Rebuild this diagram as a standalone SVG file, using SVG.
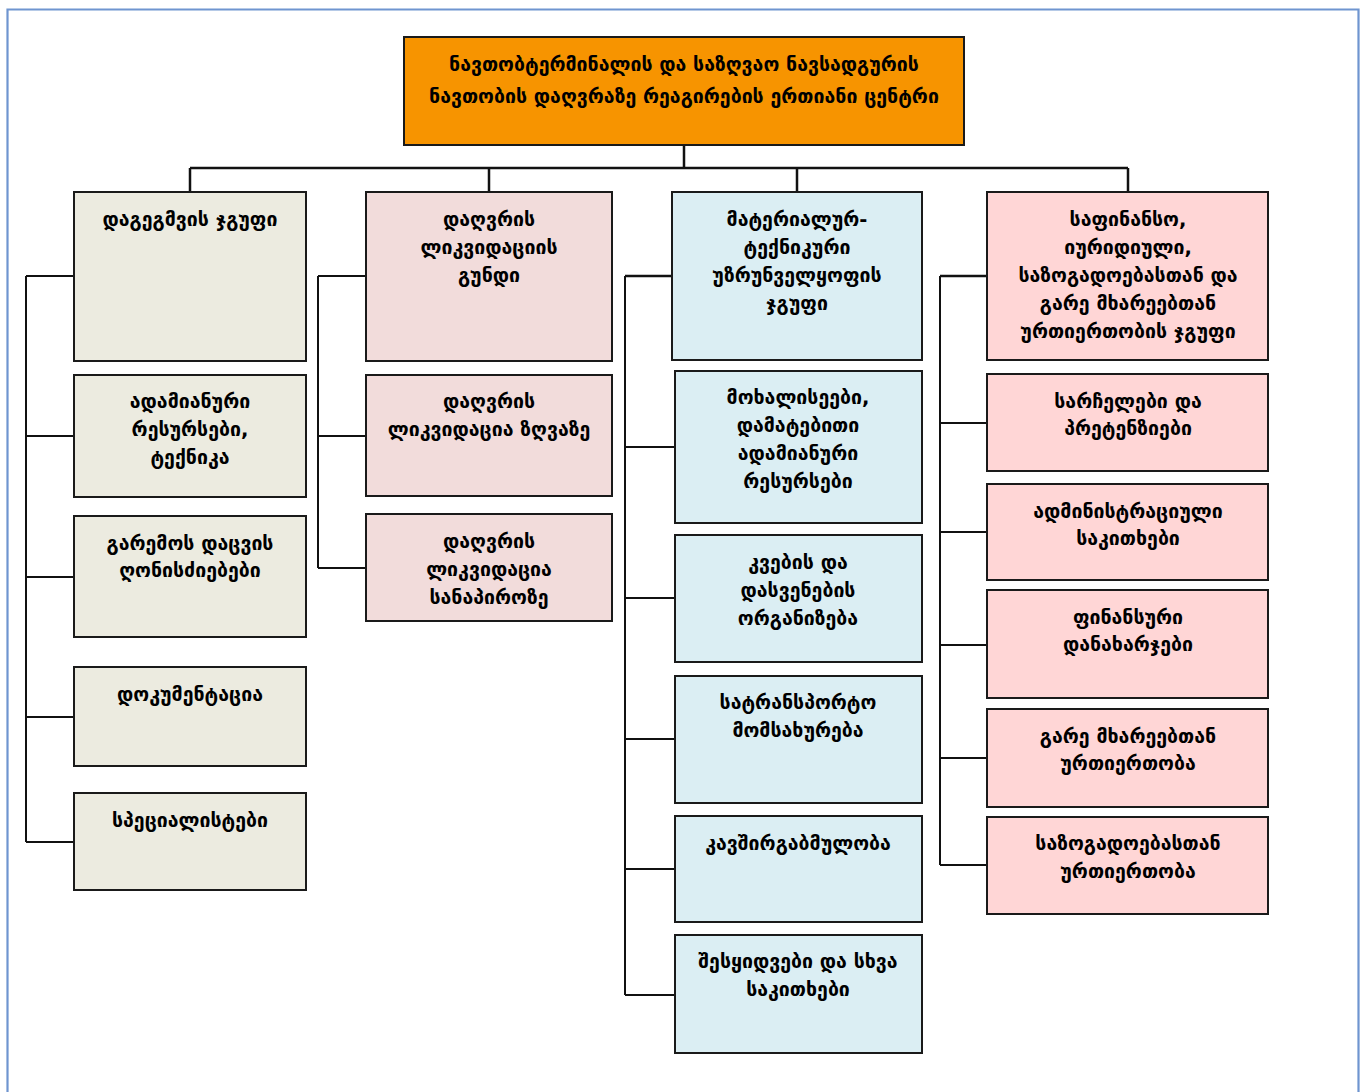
<svg xmlns="http://www.w3.org/2000/svg" width="1364" height="1092" viewBox="0 0 1364 1092">
  <style>
    .box { stroke: #1a1a1a; stroke-width: 2; }
    .root { fill: #f79400; }
    .plan { fill: #ecebe0; }
    .spill { fill: #f2dcdb; }
    .logi { fill: #dbeef3; }
    .fin { fill: #ffd6d6; }
    .lbl { font-family: "DejaVu Sans", "Noto Sans", sans-serif; font-size: 19.5px; font-weight: bold; fill: #000; text-anchor: middle; }
    .wire { fill: none; stroke: #111; stroke-width: 2; }
    .wire-h { fill: none; stroke: #111; stroke-width: 2.5; }
  </style>

  <!-- page frame -->
  <path d="M7.5,1092 V9.5 H1358.5 V1092" fill="none" stroke="#6f95d0" stroke-width="2.2"/>

  <g id="connectors">
    <!-- root to group heads -->
    <path class="wire-h" d="M684,145 V168 M190,168 H1128 M190,168 V192 M489,168 V192 M797,168 V192 M1128,168 V192"/>
    <!-- planning column -->
    <path class="wire" d="M26,276 V842 M26,276 H74 M26,436 H74 M26,577 H74 M26,717 H74 M26,842 H74"/>
    <!-- spill response column -->
    <path class="wire" d="M318,276 V568 M318,276 H366 M318,436 H366 M318,568 H366"/>
    <!-- logistics column -->
    <path class="wire" d="M625,276 V995 M625,447 H675 M625,598 H675 M625,739 H675 M625,869 H675 M625,995 H675"/>
    <path class="wire-h" d="M625,276 H672"/>
    <!-- finance and relations column -->
    <path class="wire" d="M940,276 V865 M940,423 H987 M940,532 H987 M940,645 H987 M940,758 H987 M940,865 H987"/>
    <path class="wire-h" d="M940,276 H987"/>
  </g>

  <g id="root">
    <rect class="box root" x="404" y="37" width="560" height="108"/>
    <text class="lbl" x="684" y="71">ნავთობტერმინალის და საზღვაო ნავსადგურის</text>
    <text class="lbl" x="684" y="103">ნავთობის დაღვრაზე რეაგირების ერთიანი ცენტრი</text>
  </g>

  <!-- planning group -->
  <g id="planning">
    <rect class="box plan" x="74" y="192" width="232" height="169"/>
    <text class="lbl" x="190" y="226">დაგეგმვის ჯგუფი</text>
  </g>
  <g id="human-resources">
    <rect class="box plan" x="74" y="375" width="232" height="122"/>
    <text class="lbl" x="190" y="408">ადამიანური</text>
    <text class="lbl" x="190" y="436">რესურსები,</text>
    <text class="lbl" x="190" y="464">ტექნიკა</text>
  </g>
  <g id="environment">
    <rect class="box plan" x="74" y="516" width="232" height="121"/>
    <text class="lbl" x="190" y="550">გარემოს დაცვის</text>
    <text class="lbl" x="190" y="577">ღონისძიებები</text>
  </g>
  <g id="documentation">
    <rect class="box plan" x="74" y="667" width="232" height="99"/>
    <text class="lbl" x="190" y="701">დოკუმენტაცია</text>
  </g>
  <g id="specialists">
    <rect class="box plan" x="74" y="793" width="232" height="97"/>
    <text class="lbl" x="190" y="827">სპეციალისტები</text>
  </g>

  <!-- spill response group -->
  <g id="spill-team">
    <rect class="box spill" x="366" y="192" width="246" height="169"/>
    <text class="lbl" x="489" y="226">დაღვრის</text>
    <text class="lbl" x="489" y="254">ლიკვიდაციის</text>
    <text class="lbl" x="489" y="282">გუნდი</text>
  </g>
  <g id="spill-sea">
    <rect class="box spill" x="366" y="375" width="246" height="121"/>
    <text class="lbl" x="489" y="408">დაღვრის</text>
    <text class="lbl" x="489" y="436">ლიკვიდაცია ზღვაზე</text>
  </g>
  <g id="spill-shore">
    <rect class="box spill" x="366" y="514" width="246" height="107"/>
    <text class="lbl" x="489" y="548">დაღვრის</text>
    <text class="lbl" x="489" y="576">ლიკვიდაცია</text>
    <text class="lbl" x="489" y="604">სანაპიროზე</text>
  </g>

  <!-- logistics group -->
  <g id="logistics">
    <rect class="box logi" x="672" y="192" width="250" height="168"/>
    <text class="lbl" x="797" y="226">მატერიალურ-</text>
    <text class="lbl" x="797" y="254">ტექნიკური</text>
    <text class="lbl" x="797" y="282">უზრუნველყოფის</text>
    <text class="lbl" x="797" y="310">ჯგუფი</text>
  </g>
  <g id="volunteers">
    <rect class="box logi" x="675" y="371" width="247" height="152"/>
    <text class="lbl" x="798" y="404">მოხალისეები,</text>
    <text class="lbl" x="798" y="432">დამატებითი</text>
    <text class="lbl" x="798" y="460">ადამიანური</text>
    <text class="lbl" x="798" y="488">რესურსები</text>
  </g>
  <g id="catering">
    <rect class="box logi" x="675" y="535" width="247" height="127"/>
    <text class="lbl" x="798" y="569">კვების და</text>
    <text class="lbl" x="798" y="597">დასვენების</text>
    <text class="lbl" x="798" y="625">ორგანიზება</text>
  </g>
  <g id="transport">
    <rect class="box logi" x="675" y="676" width="247" height="127"/>
    <text class="lbl" x="798" y="709">სატრანსპორტო</text>
    <text class="lbl" x="798" y="737">მომსახურება</text>
  </g>
  <g id="communications">
    <rect class="box logi" x="675" y="816" width="247" height="106"/>
    <text class="lbl" x="798" y="850">კავშირგაბმულობა</text>
  </g>
  <g id="procurement">
    <rect class="box logi" x="675" y="935" width="247" height="118"/>
    <text class="lbl" x="798" y="968">შესყიდვები და სხვა</text>
    <text class="lbl" x="798" y="996">საკითხები</text>
  </g>

  <!-- finance, legal and relations group -->
  <g id="finance">
    <rect class="box fin" x="987" y="192" width="281" height="168"/>
    <text class="lbl" x="1128" y="226">საფინანსო,</text>
    <text class="lbl" x="1128" y="254">იურიდიული,</text>
    <text class="lbl" x="1128" y="282">საზოგადოებასთან და</text>
    <text class="lbl" x="1128" y="310">გარე მხარეებთან</text>
    <text class="lbl" x="1128" y="338">ურთიერთობის ჯგუფი</text>
  </g>
  <g id="claims">
    <rect class="box fin" x="987" y="374" width="281" height="97"/>
    <text class="lbl" x="1128" y="408">სარჩელები და</text>
    <text class="lbl" x="1128" y="435">პრეტენზიები</text>
  </g>
  <g id="administration">
    <rect class="box fin" x="987" y="484" width="281" height="96"/>
    <text class="lbl" x="1128" y="518">ადმინისტრაციული</text>
    <text class="lbl" x="1128" y="545">საკითხები</text>
  </g>
  <g id="expenses">
    <rect class="box fin" x="987" y="590" width="281" height="108"/>
    <text class="lbl" x="1128" y="624">ფინანსური</text>
    <text class="lbl" x="1128" y="651">დანახარჯები</text>
  </g>
  <g id="external">
    <rect class="box fin" x="987" y="709" width="281" height="98"/>
    <text class="lbl" x="1128" y="743">გარე მხარეებთან</text>
    <text class="lbl" x="1128" y="770">ურთიერთობა</text>
  </g>
  <g id="public">
    <rect class="box fin" x="987" y="817" width="281" height="97"/>
    <text class="lbl" x="1128" y="850">საზოგადოებასთან</text>
    <text class="lbl" x="1128" y="878">ურთიერთობა</text>
  </g>
</svg>
